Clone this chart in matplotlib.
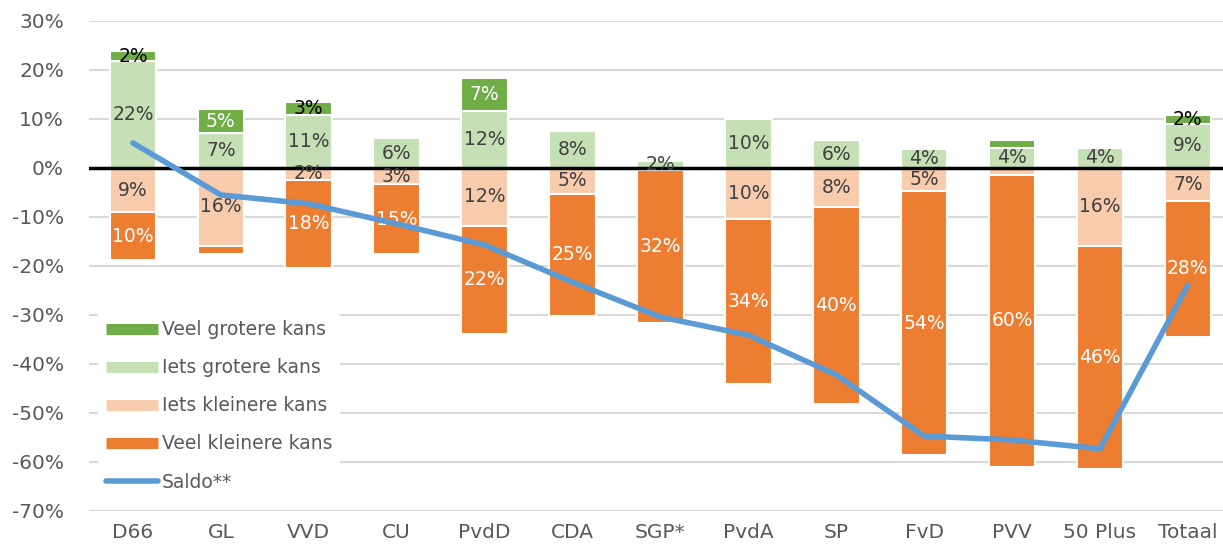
import numpy as np
import matplotlib.pyplot as plt
from matplotlib.lines import Line2D
from matplotlib.ticker import PercentFormatter

partijen = ["D66", "GL", "VVD", "CU", "PvdD", "CDA", "SGP*", "PvdA", "SP", "FvD", "PVV", "50 Plus", "Totaal"]

# percentages per partij (kleinere kansen als positieve getallen)
veel_groter = [2.1, 4.9, 2.7, 0, 6.8, 0, 0, 0, 0, 0, 1.6, 0, 1.8]
iets_groter = [21.8, 7.1, 10.8, 6.1, 11.6, 7.6, 1.5, 10.0, 5.7, 3.9, 4.1, 4.1, 9.0]
iets_kleiner = [9.0, 15.9, 2.4, 3.3, 11.8, 5.3, 0.4, 10.4, 8.0, 4.7, 1.4, 15.9, 6.7]
veel_kleiner = [9.8, 1.7, 18.0, 14.3, 22.1, 24.9, 31.2, 33.7, 40.2, 53.9, 59.6, 45.5, 27.8]
saldo = [5.1, -5.5, -7.3, -11.4, -15.7, -23.3, -30.4, -34.1, -42.2, -54.7, -55.5, -57.3, -23.9]

# labels zoals in de grafiek (None = geen label)
veel_groter_lbl = [2, 5, 3, None, 7, None, None, None, None, None, None, None, 2]
iets_groter_lbl = [22, 7, 11, 6, 12, 8, 2, 10, 6, 4, 4, 4, 9]
iets_kleiner_lbl = [9, 16, 2, 3, 12, 5, None, 10, 8, 5, None, 16, 7]
veel_kleiner_lbl = [10, None, 18, 15, 22, 25, 32, 34, 40, 54, 60, 46, 28]

c_veel_groter = "#70AD47"
c_iets_groter = "#C5E0B4"
c_iets_kleiner = "#F8CBAD"
c_veel_kleiner = "#ED7D31"
c_saldo = "#5B9BD5"
grijs = "#595959"

plt.rcParams['font.family'] = ['DejaVu Sans']
plt.rcParams['axes.unicode_minus'] = False

fig = plt.figure(figsize=(12.23, 5.48), dpi=100)
ax = fig.add_axes([89 / 1223, 37 / 548, 1 - 89 / 1223, 490 / 548])

x = np.arange(len(partijen))
w = 0.53
ig = np.array(iets_groter)
vg = np.array(veel_groter)
ik = np.array(iets_kleiner)
vk = np.array(veel_kleiner)

kw = dict(width=w, edgecolor="white", linewidth=1.5, zorder=2)
ax.bar(x, ig, color=c_iets_groter, **kw)
ax.bar(x, vg, bottom=ig, color=c_veel_groter, **kw)
ax.bar(x, -ik, color=c_iets_kleiner, **kw)
ax.bar(x, -vk, bottom=-ik, color=c_veel_kleiner, **kw)

fs_lbl = 13.5


def labels(centers, lbls, kleuren):
    if isinstance(kleuren, str):
        kleuren = [kleuren] * len(lbls)
    for xi, yc, l, k in zip(x, centers, lbls, kleuren):
        if l is None:
            continue
        ax.text(xi, yc, f"{l}%", ha="center", va="center", fontsize=fs_lbl, color=k, zorder=4)


labels(ig / 2, iets_groter_lbl, "#404040")
labels(-ik / 2, iets_kleiner_lbl, "#404040")
labels(-ik - vk / 2, veel_kleiner_lbl, "white")
vg_kleur = ["black", "white", "black", "black", "white", "black", "black",
            "black", "black", "black", "black", "black", "black"]
labels(ig + vg / 2, veel_groter_lbl, vg_kleur)

ax.axhline(0, color="black", lw=2.5, zorder=3)
ax.plot(x, saldo, color=c_saldo, lw=4, solid_capstyle="round", zorder=5)

ax.set_ylim(-70, 30)
ax.set_xlim(-0.5, 12.4)
ax.set_yticks(np.arange(-70, 31, 10))
ax.yaxis.set_major_formatter(PercentFormatter(decimals=0))
ax.set_xticks(x)
ax.set_xticklabels(partijen)
ax.tick_params(length=0, labelsize=14.5, colors=grijs)
ax.tick_params(axis="x", pad=9)
ax.tick_params(axis="y", pad=18)
ax.grid(axis="y", color="#D9D9D9", lw=1.5, zorder=0)
ax.set_axisbelow(True)
for s in ax.spines.values():
    s.set_visible(False)

handles = [
    Line2D([], [], color=c_veel_groter, lw=8, solid_capstyle="butt"),
    Line2D([], [], color=c_iets_groter, lw=8, solid_capstyle="butt"),
    Line2D([], [], color=c_iets_kleiner, lw=8, solid_capstyle="butt"),
    Line2D([], [], color=c_veel_kleiner, lw=8, solid_capstyle="butt"),
    Line2D([], [], color=c_saldo, lw=4, solid_capstyle="round"),
]
namen = ["Veel grotere kans", "Iets grotere kans", "Iets kleinere kans", "Veel kleinere kans", "Saldo**"]
leg = ax.legend(handles, namen, loc="upper left", bbox_to_anchor=(0.0, 0.424),
                frameon=True, framealpha=1, edgecolor="none", facecolor="white",
                fontsize=13.5, labelcolor=grijs, handlelength=2.8, handletextpad=0.2,
                labelspacing=1.02, borderpad=0.4)
leg.set_zorder(6)

fig.savefig("out.png", dpi=100)
